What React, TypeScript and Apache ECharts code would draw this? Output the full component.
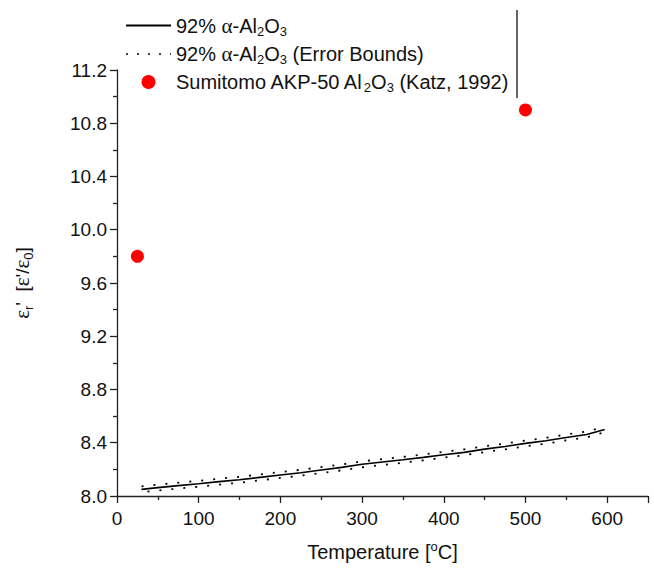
import React, { useEffect, useRef } from "react";
import * as echarts from "echarts";

// Main measurement: 92% α-Al2O3
const tempMain = [30, 50, 75, 100, 125, 150, 175, 200, 225, 250, 275, 300, 325, 350, 375, 400, 425, 450, 475, 500, 525, 550, 575, 597];
const epsMain = [8.05, 8.063, 8.078, 8.092, 8.108, 8.122, 8.14, 8.158, 8.175, 8.195, 8.215, 8.238, 8.255, 8.272, 8.29, 8.31, 8.328, 8.352, 8.372, 8.395, 8.415, 8.44, 8.462, 8.5];
const epsUpper = [8.072, 8.085, 8.1, 8.114, 8.13, 8.144, 8.162, 8.18, 8.197, 8.217, 8.237, 8.26, 8.277, 8.294, 8.312, 8.332, 8.35, 8.374, 8.394, 8.417, 8.437, 8.462, 8.484, 8.52];
const epsLower = [8.028, 8.041, 8.056, 8.07, 8.086, 8.1, 8.118, 8.136, 8.153, 8.173, 8.193, 8.216, 8.233, 8.25, 8.268, 8.288, 8.306, 8.33, 8.35, 8.373, 8.393, 8.418, 8.44, 8.48];

// Sumitomo AKP-50 (Katz, 1992)
const tempKatz = [25, 500];
const epsKatz = [9.8, 10.9];

const NAME_MAIN = "92% α-Al2O3";
const NAME_ERR = "92% α-Al2O3 (Error Bounds)";
const NAME_KATZ = "Sumitomo AKP-50 Al2O3 (Katz, 1992)";

const legendRich: Record<string, string> = {
  [NAME_MAIN]: "{n|92% }{g|α}{n|-Al}{s|2}{n|O}{s|3}",
  [NAME_ERR]: "{n|92% }{g|α}{n|-Al}{s|2}{n|O}{s|3}{n| (Error Bounds)}",
  [NAME_KATZ]: "{n|Sumitomo AKP-50 Al}{s|2}{n|O}{s|3}{n| (Katz, 1992)}",
};

const FONT = "'Liberation Sans', Arial, sans-serif";
const SERIF = "'Liberation Serif', 'Times New Roman', serif";

const pair = (xs: number[], ys: number[]) => xs.map((x, i) => [x, ys[i]]);

export default function App() {
  const ref = useRef<HTMLDivElement>(null);
  useEffect(() => {
    document.body.style.margin = "0";
    if (!ref.current) return;
    const chart = echarts.init(ref.current, undefined, { renderer: "svg" });
    const errStyle = { color: "#000", width: 1.8, type: [2, 10] as any };
    chart.setOption({
      animation: false,
      backgroundColor: "#fff",
      grid: { left: 117, right: 6, top: 70, bottom: 76 },
      legend: {
        orient: "vertical",
        left: 120,
        top: 10,
        itemWidth: 45,
        itemHeight: 14,
        itemGap: 6,
        data: [
          { name: NAME_MAIN, itemStyle: { opacity: 0 } },
          { name: NAME_ERR, itemStyle: { opacity: 0 }, lineStyle: { type: [2, 9] as any, width: 1.5 } },
          { name: NAME_KATZ },
        ],
        formatter: (name: string) => legendRich[name] || name,
        textStyle: {
          color: "#111",
          rich: {
            n: { fontFamily: FONT, fontSize: 20, lineHeight: 24, color: "#111", verticalAlign: "middle" },
            g: { fontFamily: SERIF, fontSize: 21, lineHeight: 24, color: "#111", verticalAlign: "middle" },
            s: { fontFamily: FONT, fontSize: 13, lineHeight: 13, color: "#111", verticalAlign: "bottom" },
          },
        },
      },
      xAxis: {
        type: "value",
        min: 0,
        max: 650,
        interval: 100,
        name: "{n|Temperature [}{p|o}{n|C]}",
        nameLocation: "middle",
        nameGap: 44,
        nameTextStyle: {
          rich: {
            n: { fontFamily: FONT, fontSize: 20, lineHeight: 24, color: "#111", verticalAlign: "middle" },
            p: { fontFamily: FONT, fontSize: 13, lineHeight: 13, color: "#111", verticalAlign: "top" },
          },
        },
        axisLine: { show: true, lineStyle: { color: "#222", width: 1.3 } },
        axisTick: { show: true, inside: false, length: 7, lineStyle: { color: "#222", width: 1.3 } },
        minorTick: { show: true, splitNumber: 2, length: 4, lineStyle: { color: "#222", width: 1.3 } },
        splitLine: { show: false },
        axisLabel: {
          margin: 13,
          fontFamily: FONT,
          fontSize: 19,
          color: "#111",
          showMaxLabel: false,
        },
      },
      yAxis: {
        type: "value",
        min: 8.0,
        max: 11.2,
        interval: 0.4,
        name: "{g|ε}{s|r}{n|'  [}{g|ε}{n|'/}{g|ε}{s|0}{n|]}",
        nameLocation: "middle",
        nameGap: 82,
        nameRotate: 90,
        nameTextStyle: {
          rich: {
            n: { fontFamily: FONT, fontSize: 19, lineHeight: 26, color: "#111", verticalAlign: "middle" },
            g: { fontFamily: SERIF, fontSize: 21, lineHeight: 26, color: "#111", verticalAlign: "middle" },
            s: { fontFamily: FONT, fontSize: 13, lineHeight: 13, color: "#111", verticalAlign: "bottom" },
          },
        },
        axisLine: { show: true, lineStyle: { color: "#222", width: 1.3 } },
        axisTick: { show: true, inside: false, length: 7, lineStyle: { color: "#222", width: 1.3 } },
        minorTick: { show: true, splitNumber: 2, length: 4, lineStyle: { color: "#222", width: 1.3 } },
        splitLine: { show: false },
        axisLabel: {
          margin: 10,
          fontFamily: FONT,
          fontSize: 19,
          color: "#111",
          formatter: (v: number) => v.toFixed(1),
        },
      },
      series: [
        {
          name: NAME_MAIN,
          type: "line",
          data: pair(tempMain, epsMain),
          showSymbol: false,
          symbol: "none",
          lineStyle: { color: "#000", width: 1.6 },
          itemStyle: { color: "#000" },
        },
        {
          name: NAME_ERR,
          type: "line",
          data: pair(tempMain, epsUpper),
          showSymbol: false,
          symbol: "none",
          lineStyle: errStyle,
          itemStyle: { color: "#000" },
        },
        {
          name: NAME_ERR,
          type: "line",
          data: pair(tempMain, epsLower),
          showSymbol: false,
          symbol: "none",
          lineStyle: { ...errStyle, dashOffset: 6 },
          itemStyle: { color: "#000" },
        },
        {
          name: NAME_KATZ,
          type: "scatter",
          data: pair(tempKatz, epsKatz),
          symbol: "circle",
          symbolSize: 13,
          itemStyle: { color: "#ff0000", opacity: 1 },
        },
      ],
      graphic: [
        {
          type: "line",
          shape: { x1: 517, y1: 10, x2: 517, y2: 98 },
          style: { stroke: "#333", lineWidth: 1.5 },
          silent: true,
        },
      ],
    });
    return () => chart.dispose();
  }, []);
  return <div ref={ref} style={{ width: 654, height: 572 }} />;
}
